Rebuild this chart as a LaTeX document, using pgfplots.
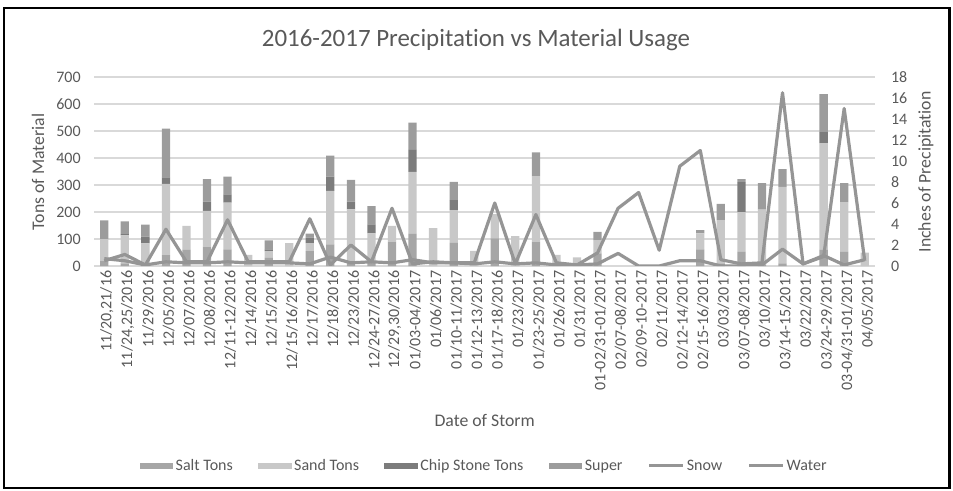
\documentclass[border=0pt]{standalone}
\usepackage{pgfplots}
\pgfplotsset{compat=1.18}
\usepackage{pgfplotstable}
\usepackage{fontspec}
\setmainfont{Carlito}[Ligatures=NoCommon]
\definecolor{txt}{HTML}{595959}
\definecolor{gridc}{HTML}{D9D9D9}
\definecolor{salt}{HTML}{A6A6A6}
\definecolor{sand}{HTML}{C8C8C8}
\definecolor{chip}{HTML}{7C7C7C}
\definecolor{super}{HTML}{9C9C9C}
\definecolor{ln}{HTML}{959595}

\pgfplotstableread{
idx salt sand chip super snow water
0 20 80 0 69 0.7 0.5
1 10 103 5 47 0.5 1.1
2 10 74 25 44 0.1 0.1
3 40 264 24 181 3.5 0.4
4 60 89 0 0 0.4 0.3
5 72 132 34 84 0.4 0.3
6 62 173 30 66 4.4 0.4
7 0 41 0 0 0.4 0.3
8 30 25 7 33 0.4 0.3
9 0 85 0 0 0.4 0.3
10 55 30 20 15 4.5 0.2
11 80 198 53 78 0.1 0.85
12 15 195 28 81 2.0 0.3
13 20 101 33 68 0.4 0.4
14 90 59 0 0 5.5 0.3
15 119 230 81 101 0.2 0.6
16 0 140 0 0 0.4 0.3
17 86 121 37 68 0.3 0.3
18 0 56 0 0 0.3 0.2
19 102 90 0 0 6.0 0.4
20 0 111 0 0 0.2 0.2
21 90 243 0 88 4.9 0.3
22 0 41 0 0 0.3 0.1
23 0 32 0 0 0.1 0.1
24 47 49 0 30 1.25 0.2
25 0 0 0 0 5.5 1.2
26 0 0 0 0 7.0 0.0
27 0 0 0 0 1.5 0.0
28 0 0 0 0 9.5 0.5
29 62 59 0 12 11.0 0.5
30 10 160 0 60 0.6 0.0
31 52 148 111 11 0.2 0.0
32 5 204 0 98 0.3 0.1
33 10 283 0 66 16.5 1.6
34 0 0 0 0 0.2 0.2
35 60 395 41 141 0.9 1.0
36 52 185 0 70 15.0 0.1
37 0 50 0 0 0.5 0.6
}\data

\begin{document}
\begin{tikzpicture}
\pgfplotsset{
  common/.style={
    scale only axis, width=585.75pt, height=141.75pt,
    at={(70.5pt,-199.5pt)}, anchor=south west,
    xmin=-0.5, xmax=37.5,
    axis line style={draw=none},
    major tick length=0pt,
    tick label style={font=\fontsize{12}{14}\selectfont, text=txt},
    /pgf/number format/assume math mode=true,
  }
}
\begin{axis}[common,
  ybar stacked, bar width=6.2pt,
  ymin=0, ymax=700, ytick={0,100,...,700},
  ymajorgrids, major grid style={gridc, line width=0.8pt},
  yticklabel style={xshift=-6.5pt},
  xtick={0,...,37},
  xticklabels={{11/20,21/16},{11/24,25/2016},11/29/2016,12/05/2016,12/07/2016,12/08/2016,12/11-12/2016,12/14/2016,12/15/2016,12/15/16/2016,12/17/2016,12/18/2016,12/23/2016,12/24-27/2016,{12/29,30/2016},01/03-04/2017,01/06/2017,01/10-11/2017,01/12-13/2017,01/17-18/2016,01/23/2017,01/23-25/2017,01/26/2017,01/31/2017,01-02/31-01/2017,02/07-08/2017,02/09-10-2017,02/11/2017,02/12-14/2017,02/15-16/2017,03/03/2017,03/07-08/2017,03/10/2017,03/14-15/2017,03/22/2017,03/24-29/2017,03-04/31-01/2017,04/05/2017},
  xticklabel style={rotate=90, anchor=east, yshift=-2pt},
  legend style={at={(0.5,-1.058)}, anchor=center, draw=none, fill=none,
    font=\fontsize{12}{14}\selectfont, text=txt, legend columns=6,
    /tikz/every even column/.append style={column sep=17pt}},
  legend cell align=left,
  area legend,
]
\addplot+[fill=salt, draw=none, legend image code/.code={\fill[salt] (0pt,-2.5pt) rectangle (25pt,2.5pt);}] table[x=idx,y=salt]{\data};
\addplot+[fill=sand, draw=none, legend image code/.code={\fill[sand] (0pt,-2.5pt) rectangle (25pt,2.5pt);}] table[x=idx,y=sand]{\data};
\addplot+[fill=chip, draw=none, legend image code/.code={\fill[chip] (0pt,-2.5pt) rectangle (25pt,2.5pt);}] table[x=idx,y=chip]{\data};
\addplot+[fill=super, draw=none, legend image code/.code={\fill[super] (0pt,-2.5pt) rectangle (25pt,2.5pt);}] table[x=idx,y=super]{\data};
\addlegendimage{legend image code/.code={\draw[ln, line width=2.2pt] (0pt,0pt) -- (25pt,0pt);}}
\addlegendimage{legend image code/.code={\draw[ln, line width=2.2pt] (0pt,0pt) -- (25pt,0pt);}}
\legend{Salt Tons, Sand Tons, Chip Stone Tons, Super, Snow, Water}
\end{axis}
\begin{axis}[common,
  ymin=0, ymax=18, ytick={0,2,...,18},
  axis y line*=right, axis x line=none,
  yticklabel style={xshift=8.5pt},
]
\addplot[ln, line width=2.4pt, line join=round] table[x=idx,y=snow]{\data};
\addplot[ln, line width=2.4pt, line join=round] table[x=idx,y=water]{\data};
\end{axis}
\node[text=txt, font=\fontsize{18.7}{22}\selectfont] at (357pt,-30pt) {2016-2017 Precipitation vs Material Usage};
\node[text=txt, font=\fontsize{13.3}{16}\selectfont, rotate=90] at (28.5pt,-129pt) {Tons of Material};
\node[text=txt, font=\fontsize{13.3}{16}\selectfont, rotate=90] at (694.5pt,-129pt) {Inches of Precipitation};
\node[text=txt, font=\fontsize{13.3}{16}\selectfont] at (363.5pt,-315pt) {Date of Storm};
\draw[black, line width=2.2pt] (3pt,-6pt) rectangle (712pt,-366pt);
\pgfresetboundingbox
\path (0,0) rectangle (714.75pt,-368.25pt);
\end{tikzpicture}
\end{document}
